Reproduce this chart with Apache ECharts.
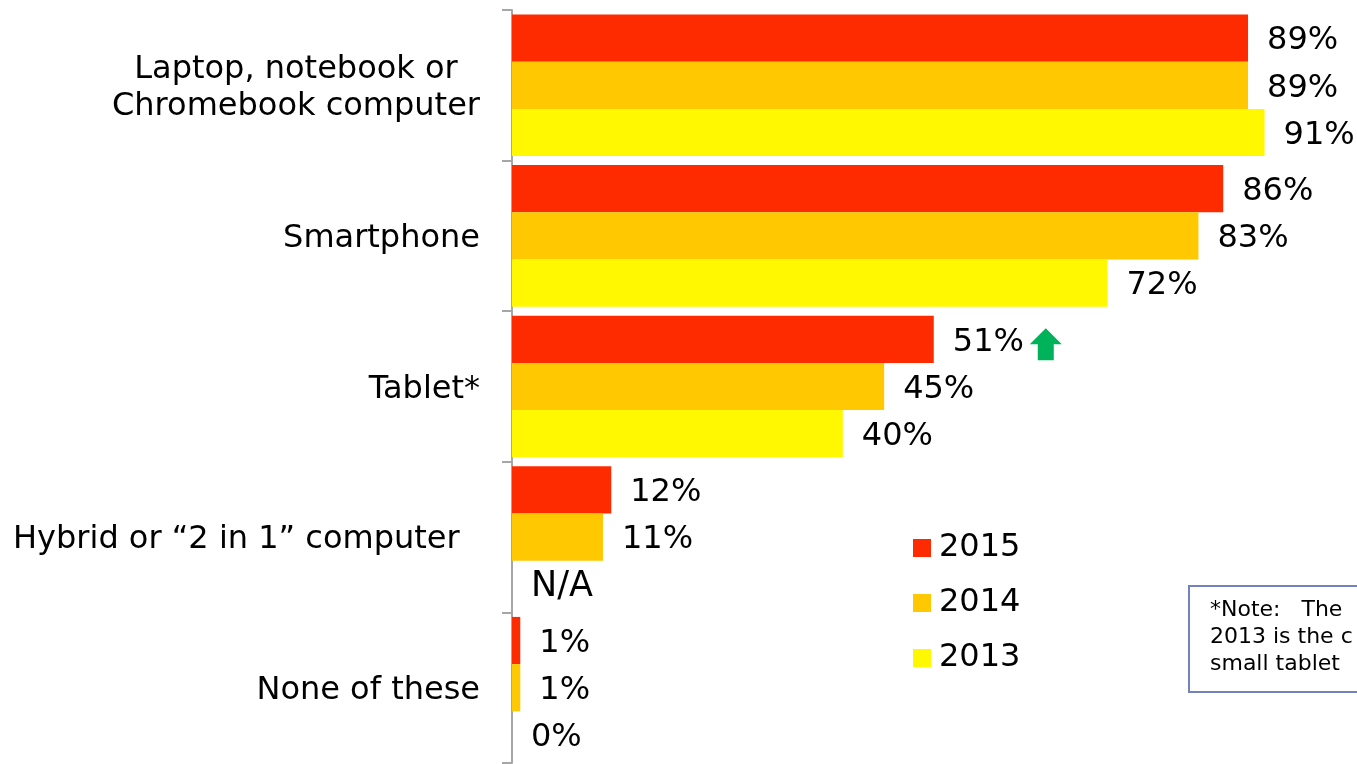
<!DOCTYPE html>
<html><head>
<meta http-equiv="Content-Type" content="text/html; charset=UTF-8">
<title>Devices owned</title>
<script src="https://cdn.jsdelivr.net/npm/echarts@6.0.0/dist/echarts.min.js"></script>
<style>
html, body { margin: 0; padding: 0; background: #fff; }
#main { width: 1357px; height: 764px; }
</style>
</head>
<body>
<div id="main"></div>
<script>
// categories, top to bottom
var categories = ['Laptop, notebook or\nChromebook computer', 'Smartphone', 'Tablet*', 'Hybrid or \u201c2 in 1\u201d computer  ', 'None of these'];
var years = ['2015', '2014', '2013'];
var v2015 = [89, 86, 51, 12, 1];
var v2014 = [89, 83, 45, 11, 1];
var v2013 = [91, 72, 40, null, 0];   // null = N/A (not asked in 2013)
var colors = ['#FF2B00', '#FFC800', '#FFF800'];
var noteLines = ['*Note:   The', '2013 is the c', 'small tablet'];

var FONT = '"DejaVu Sans", Verdana, sans-serif';

function toBarData(arr) {
    return arr.map(function (v) {
        if (v == null) {
            return { value: 0, label: { formatter: 'N/A', fontSize: 35 } };
        }
        return v;
    });
}

function makeSeries(name, arr, color) {
    return {
        name: name,
        type: 'bar',
        barGap: '0%',
        barCategoryGap: '6%',
        itemStyle: { color: color },
        label: {
            show: true,
            position: 'right',
            distance: 19,
            offset: [0, 3],
            formatter: '{c}%',
            color: '#000',
            fontSize: 32,
            fontFamily: FONT
        },
        silent: true,
        data: toBarData(arr)
    };
}

var series = [
    makeSeries(years[0], v2015, colors[0]),
    makeSeries(years[1], v2014, colors[1]),
    makeSeries(years[2], v2013, colors[2])
];

// green "up" arrow next to the 2015 tablet figure
series[0].markPoint = {
    silent: true,
    symbol: 'path://M0,16 L16,0 L32,16 L24,16 L24,32 L8,32 L8,16 Z',
    symbolSize: [32, 32],
    symbolOffset: [112, 5],
    itemStyle: { color: '#00B25A' },
    label: { show: false },
    data: [{ coord: [v2015[2], categories[2]] }]
};

var chart = echarts.init(document.getElementById('main'));
chart.setOption({
    animation: false,
    backgroundColor: '#fff',
    grid: { left: 512, right: 18, top: 10, bottom: 1, containLabel: false },
    legend: {
        data: years,
        orient: 'vertical',
        left: 913,
        top: 532,
        padding: 0,
        itemWidth: 18,
        itemHeight: 18,
        itemGap: 23,
        icon: 'rect',
        selectedMode: false,
        textStyle: { fontSize: 32, color: '#000', fontFamily: FONT, padding: [0, 0, 0, 3] }
    },
    xAxis: {
        type: 'value',
        min: 0,
        max: 100,
        show: false,
        splitLine: { show: false }
    },
    yAxis: {
        type: 'category',
        inverse: true,
        data: categories,
        axisLine: { show: true, lineStyle: { color: '#A6A6A6', width: 2 } },
        axisTick: { show: true, length: 10, lineStyle: { color: '#A6A6A6', width: 2 } },
        axisLabel: {
            margin: 32,
            color: '#000',
            fontSize: 32,
            fontFamily: FONT,
            lineHeight: 37,
            padding: [6, 0, 0, 0],
            formatter: function (v) {
                return v.split('\n').map(function (l) { return '{c|' + l + '}'; }).join('\n');
            },
            rich: {
                c: { align: 'center', fontSize: 32, lineHeight: 37, fontFamily: FONT, color: '#000' }
            }
        }
    },
    graphic: [{
        type: 'group',
        left: 1188,
        top: 585,
        children: [{
            type: 'rect',
            shape: { x: 0, y: 0, width: 220, height: 106 },
            style: { fill: '#fff', stroke: '#7382BA', lineWidth: 2 }
        }, {
            type: 'text',
            x: 21,
            y: 11,
            style: {
                text: noteLines.join('\n'),
                fontSize: 22,
                fontFamily: FONT,
                lineHeight: 27,
                fill: '#000'
            }
        }]
    }],
    series: series
});
</script>
</body></html>
